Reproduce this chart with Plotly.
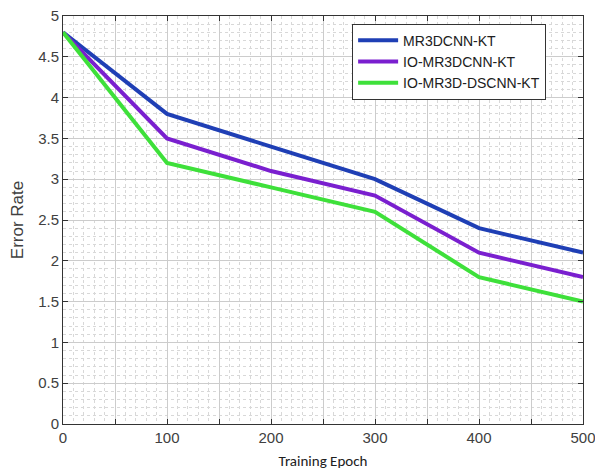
import plotly.graph_objects as go

epochs = [0, 100, 200, 300, 400, 500]
mr3dcnn = [4.8, 3.8, 3.4, 3.0, 2.4, 2.1]
io_mr3dcnn = [4.8, 3.5, 3.1, 2.8, 2.1, 1.8]
io_mr3d_dscnn = [4.8, 3.2, 2.9, 2.6, 1.8, 1.5]
names = ["MR3DCNN-KT", "IO-MR3DCNN-KT", "IO-MR3D-DSCNN-KT"]
colors = ["#1f3fb5", "#7a1fcf", "#3ee03a"]
x_ticks = [0, 100, 200, 300, 400, 500]
y_ticks = [0, 0.5, 1, 1.5, 2, 2.5, 3, 3.5, 4, 4.5, 5]

fig = go.Figure()
for ys, nm, c in zip([mr3dcnn, io_mr3dcnn, io_mr3d_dscnn], names, colors):
    fig.add_trace(go.Scatter(x=epochs, y=ys, mode="lines", name=nm,
                             line=dict(color=c, width=4)))

axis_common = dict(
    showline=True, linecolor="#333333", linewidth=1, mirror="ticks",
    ticks="inside", ticklen=5, tickcolor="#333333",
    showgrid=True, gridcolor="#cccccc", gridwidth=1,
    zeroline=False, automargin=False, ticklabeloverflow="allow",
    tickfont=dict(family="Liberation Sans, Arial", size=15, color="#404040"),
)

fig.update_xaxes(range=[0, 500], tickvals=[0, 50, 100, 150, 200, 250, 300, 350, 400, 450, 500],
                 ticktext=["0", "", "100", "", "200", "", "300", "", "400", "", "500"],
                 minor=dict(dtick=10, tick0=0, showgrid=True, gridcolor="#d8d8d8", griddash="dot", ticks=""),
                 title=dict(text="Training Epoch", font=dict(family="Carlito, Calibri, Liberation Sans", size=15, color="#202020"), standoff=10),
                 **axis_common)
fig.update_yaxes(range=[0, 5], tickvals=y_ticks, ticktext=[f"{v:g}" for v in y_ticks],
                 minor=dict(dtick=0.1, tick0=0, showgrid=True, gridcolor="#d8d8d8", griddash="dot", ticks=""),
                 title=dict(text="Error Rate", font=dict(family="Liberation Sans, Arial", size=17, color="#404040"), standoff=10),
                 **axis_common)

fig.update_layout(
    width=595, height=471,
    margin=dict(l=63, r=12, t=16, b=47),
    plot_bgcolor="white", paper_bgcolor="white",
    showlegend=True,
    legend=dict(x=0.556, y=0.981, xanchor="left", yanchor="top",
                bgcolor="white", bordercolor="#333333", borderwidth=1,
                font=dict(family="Liberation Sans, Arial", size=14, color="#202020"),
                tracegroupgap=0, itemwidth=40),
)

fig.write_html("out.html")
